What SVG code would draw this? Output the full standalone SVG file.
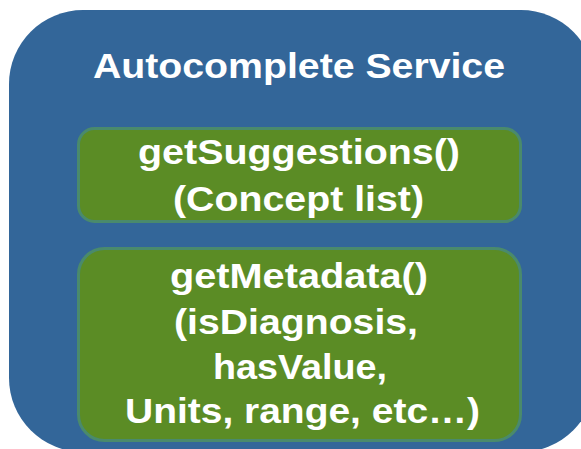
<svg xmlns="http://www.w3.org/2000/svg" width="581" height="449" viewBox="0 0 581 449">
  <style>
    .service { fill: #336699; }
    .method { fill: #5b8c25; stroke: #4a8a6c; stroke-width: 3; }
    .label { fill: #ffffff; font-family: "Liberation Sans", Arial, sans-serif; font-weight: bold; font-size: 35px; text-anchor: middle; }
  </style>
  <rect width="581" height="449" fill="#ffffff"/>
  <g id="autocomplete-service">
    <rect class="service" x="9" y="10" width="586" height="442" rx="74" ry="74"/>
    <text class="label" x="299" y="78" textLength="412" lengthAdjust="spacingAndGlyphs">Autocomplete Service</text>
  </g>
  <g id="get-suggestions">
    <rect class="method" x="78.5" y="128.5" width="442" height="93" rx="16" ry="16"/>
    <text class="label" x="299" y="164" textLength="322" lengthAdjust="spacingAndGlyphs">getSuggestions()</text>
    <text class="label" x="298.5" y="211" textLength="251" lengthAdjust="spacingAndGlyphs">(Concept list)</text>
  </g>
  <g id="get-metadata">
    <rect class="method" x="78.5" y="248.5" width="442" height="192" rx="26" ry="26"/>
    <text class="label" x="299" y="288" textLength="258" lengthAdjust="spacingAndGlyphs">getMetadata()</text>
    <text class="label" x="296" y="334" textLength="244" lengthAdjust="spacingAndGlyphs">(isDiagnosis,</text>
    <text class="label" x="300" y="379" textLength="174" lengthAdjust="spacingAndGlyphs">hasValue,</text>
    <text class="label" x="302.5" y="423" textLength="355" lengthAdjust="spacingAndGlyphs">Units, range, etc…)</text>
  </g>
  <g id="connectors"/>
</svg>
